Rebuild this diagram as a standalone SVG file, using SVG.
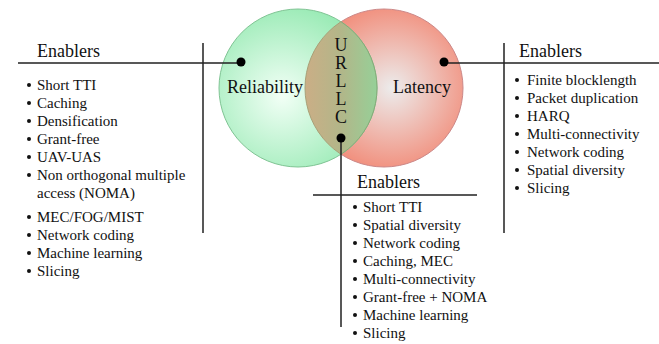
<svg xmlns="http://www.w3.org/2000/svg" width="659" height="344" viewBox="0 0 659 344">
<style>
text{font-family:"Liberation Serif","Times New Roman",serif;fill:#111}
.h{font-size:18px}
.i{font-size:15px}
.lbl{font-size:18px}
.vert{font-size:18px;writing-mode:vertical-rl;text-orientation:upright;letter-spacing:-2px}
.ln{stroke:#222;stroke-width:1.5;fill:none}
.dot{fill:#000}
.b{fill:#111}
</style>
<defs>
<radialGradient id="gG" cx="0.4" cy="0.55" r="0.6">
<stop offset="0" stop-color="#f2fff6"/>
<stop offset="1" stop-color="#98eab4"/>
</radialGradient>
<radialGradient id="gR" cx="0.55" cy="0.5" r="0.58">
<stop offset="0" stop-color="#ececec"/>
<stop offset="1" stop-color="#f28672"/>
</radialGradient>
<linearGradient id="gO" x1="305" y1="0" x2="377" y2="0" gradientUnits="userSpaceOnUse">
<stop offset="0" stop-color="#cbae86"/>
<stop offset="0.5" stop-color="#b2b689"/>
<stop offset="1" stop-color="#96d098"/>
</linearGradient>
<clipPath id="cR"><circle cx="384" cy="88" r="79"/></clipPath>
<clipPath id="cG"><circle cx="298" cy="88" r="79"/></clipPath>
</defs>
<g id="venn">
<g id="latency">
<circle cx="384" cy="88" r="79" fill="url(#gR)" stroke="#cc8888" stroke-width="1"/>
</g>
<g id="reliability">
<circle cx="298" cy="88" r="79" fill="url(#gG)" stroke="#80c494" stroke-width="1"/>
</g>
<g id="urllc">
<g clip-path="url(#cR)"><rect x="295" y="0" width="90" height="180" fill="url(#gO)" clip-path="url(#cG)"/></g>
<circle cx="298" cy="88" r="79" fill="none" stroke="#86aa78" stroke-width="1" clip-path="url(#cR)"/>
<circle cx="384" cy="88" r="79" fill="none" stroke="#a8a078" stroke-width="1" clip-path="url(#cG)"/>
<text x="341" y="35" class="vert">URLLC</text>
</g>
<text x="227" y="93" class="lbl">Reliability</text>
<text x="393" y="93" class="lbl">Latency</text>
</g>
<g id="connectors">
<path class="ln" d="M18 63H241M203 43V233"/>
<path class="ln" d="M444 63H659M504 43V233"/>
<path class="ln" d="M341 138V327M313 195H477"/>
<circle class="dot" cx="241" cy="62" r="4.5"/>
<circle class="dot" cx="444" cy="62" r="4.5"/>
<circle class="dot" cx="341" cy="138" r="4.5"/>
</g>
<g id="left-enablers">
<text x="37" y="57" class="h">Enablers</text>
<circle class="b" cx="29" cy="85" r="2"/><text x="37" y="90" class="i">Short TTI</text>
<circle class="b" cx="29" cy="103" r="2"/><text x="37" y="108" class="i">Caching</text>
<circle class="b" cx="29" cy="121" r="2"/><text x="37" y="126" class="i">Densification</text>
<circle class="b" cx="29" cy="139" r="2"/><text x="37" y="144" class="i">Grant-free</text>
<circle class="b" cx="29" cy="157" r="2"/><text x="37" y="162" class="i">UAV-UAS</text>
<circle class="b" cx="29" cy="175" r="2"/><text x="37" y="180" class="i">Non orthogonal multiple</text>
<text x="37" y="198" class="i">access (NOMA)</text>
<circle class="b" cx="29" cy="217" r="2"/><text x="37" y="222" class="i">MEC/FOG/MIST</text>
<circle class="b" cx="29" cy="235" r="2"/><text x="37" y="240" class="i">Network coding</text>
<circle class="b" cx="29" cy="253" r="2"/><text x="37" y="258" class="i">Machine learning</text>
<circle class="b" cx="29" cy="271" r="2"/><text x="37" y="276" class="i">Slicing</text>
</g>
<g id="right-enablers">
<text x="519" y="57" class="h">Enablers</text>
<circle class="b" cx="517" cy="80" r="2"/><text x="527" y="85" class="i">Finite blocklength</text>
<circle class="b" cx="517" cy="98" r="2"/><text x="527" y="103" class="i">Packet duplication</text>
<circle class="b" cx="517" cy="116" r="2"/><text x="527" y="121" class="i">HARQ</text>
<circle class="b" cx="517" cy="134" r="2"/><text x="527" y="139" class="i">Multi-connectivity</text>
<circle class="b" cx="517" cy="152" r="2"/><text x="527" y="157" class="i">Network coding</text>
<circle class="b" cx="517" cy="170" r="2"/><text x="527" y="175" class="i">Spatial diversity</text>
<circle class="b" cx="517" cy="188" r="2"/><text x="527" y="193" class="i">Slicing</text>
</g>
<g id="bottom-enablers">
<text x="357" y="188" class="h">Enablers</text>
<circle class="b" cx="355" cy="207" r="2"/><text x="363" y="212" class="i">Short TTI</text>
<circle class="b" cx="355" cy="225" r="2"/><text x="363" y="230" class="i">Spatial diversity</text>
<circle class="b" cx="355" cy="243" r="2"/><text x="363" y="248" class="i">Network coding</text>
<circle class="b" cx="355" cy="261" r="2"/><text x="363" y="266" class="i">Caching, MEC</text>
<circle class="b" cx="355" cy="279" r="2"/><text x="363" y="284" class="i">Multi-connectivity</text>
<circle class="b" cx="355" cy="297" r="2"/><text x="363" y="302" class="i">Grant-free + NOMA</text>
<circle class="b" cx="355" cy="315" r="2"/><text x="363" y="320" class="i">Machine learning</text>
<circle class="b" cx="355" cy="333" r="2"/><text x="363" y="338" class="i">Slicing</text>
</g>
</svg>
